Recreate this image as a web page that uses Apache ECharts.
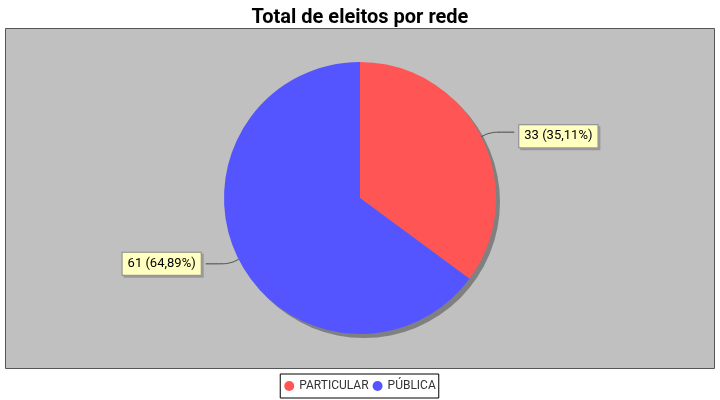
<!DOCTYPE html>
<html><head><meta charset="utf-8">
<script src="https://cdn.jsdelivr.net/npm/echarts@6/dist/echarts.min.js"></script>
<style>html,body{margin:0;padding:0;background:#fff}#c{width:720px;height:400px}</style>
</head><body><div id="c"></div>
<script>
const categories = ['PARTICULAR', 'PÚBLICA'];
const values = [33, 61];
const colors = ['#FF5555', '#5555FF'];
const title = 'Total de eleitos por rede';

const total = values.reduce((a, b) => a + b, 0);
const chart = echarts.init(document.getElementById('c'), null, {renderer: 'canvas'});
chart.setOption({
  animation: false,
  title: {text: title, left: 'center', top: 3, textStyle: {fontFamily: 'Roboto', fontWeight: 'bold', fontSize: 20, color: '#000'}},
  graphic: [{type: 'rect', z: -10, shape: {x: 5.5, y: 28.5, width: 709, height: 340}, style: {fill: '#C0C0C0', stroke: '#555', lineWidth: 1}}],
  legend: {
    bottom: 2, left: 'center', icon: 'circle', itemWidth: 10, itemHeight: 10, itemGap: 4,
    borderColor: '#000', borderWidth: 1, backgroundColor: '#fff', padding: [6, 3, 6, 4],
    textStyle: {fontFamily: 'Roboto', fontSize: 12, color: '#333', padding: [0, 0, 0, 0]},
    data: categories
  },
  series: [
    {
      type: 'pie', silent: true, center: [364, 202], radius: 136, z: 1,
      label: {show: false}, labelLine: {show: false}, legendHoverLink: false,
      itemStyle: {color: '#808080'}, data: [{value: 1, name: '_shadow'}], tooltip: {show: false}
    },
    {
      type: 'pie', center: [360, 198], radius: 136, z: 2, startAngle: 90, clockwise: true,
      data: categories.map((c, i) => ({name: c, value: values[i], itemStyle: {color: colors[i]}})),
      label: {
        formatter: p => p.value + ' (' + (p.value / total * 100).toFixed(2).replace('.', ',') + '%)',
        fontFamily: 'Roboto', fontSize: 13, color: '#000',
        backgroundColor: '#FFFFC0', borderColor: '#888', borderWidth: 1, padding: [5, 5, 4, 5],
        shadowColor: '#999', shadowOffsetX: 2, shadowOffsetY: 2, shadowBlur: 0
      },
      labelLayout: p => (p.dataIndex === 0 ? {dy: 4} : {}),
      labelLine: {length: 10, length2: 24, smooth: 0.4, lineStyle: {color: '#444', width: 1}},
      emphasis: {disabled: true}
    }
  ]
});
</script></body></html>
